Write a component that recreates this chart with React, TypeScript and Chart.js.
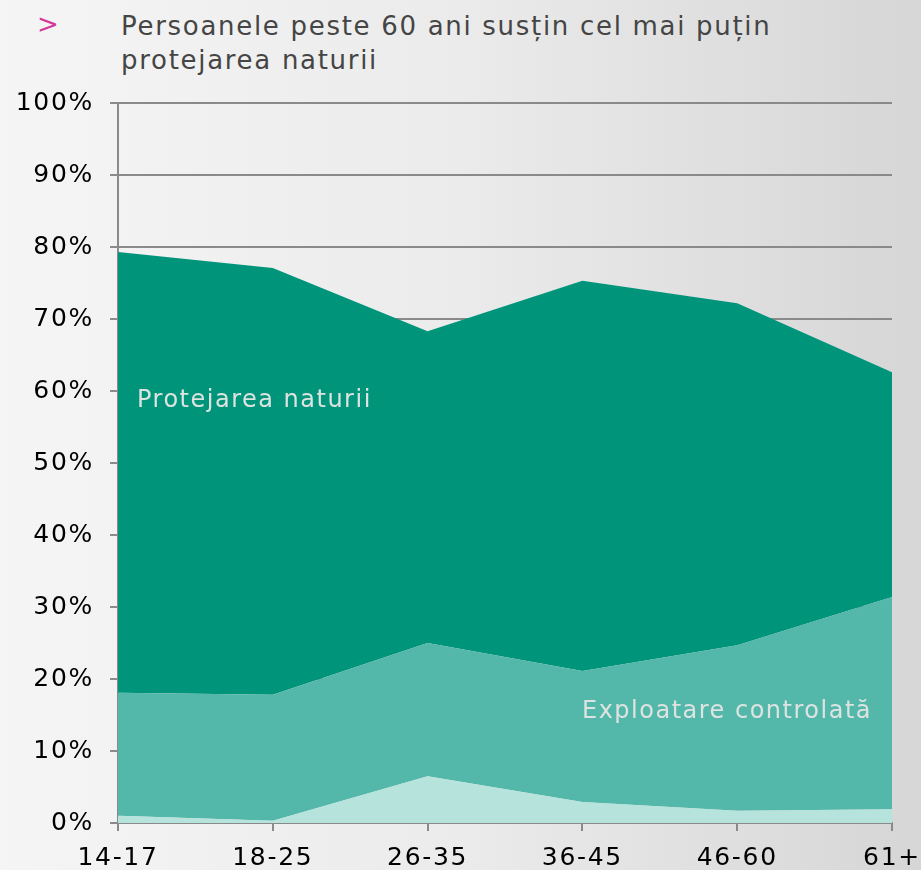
import React, { useEffect, useRef } from "react";
import { Chart, registerables } from "chart.js";

Chart.register(...registerables);

const categories = ["14-17", "18-25", "26-35", "36-45", "46-60", "61+"];
const lightValues = [1.0, 0.3, 6.5, 2.9, 1.7, 1.9];
const exploatareValues = [17.1, 17.5, 18.5, 18.2, 23.0, 29.5];
const protejareValues = [61.2, 59.3, 43.3, 54.2, 47.5, 31.2];
const titleLines = ["Persoanele peste 60 ani susțin cel mai puțin", "protejarea naturii"];
const protejareLabel = "Protejarea naturii";
const exploatareLabel = "Exploatare controlată";

const FONT = "'DejaVu Sans', Verdana, sans-serif";
const SPACING = "1.7px";

const spacingPlugin = {
  id: "spacing",
  beforeUpdate(chart: any) {
    (chart.ctx as any).letterSpacing = SPACING;
  },
  beforeDraw(chart: any) {
    (chart.ctx as any).letterSpacing = SPACING;
  },
};

const labelPlugin = {
  id: "areaLabels",
  afterDatasetsDraw(chart: any) {
    const { ctx, chartArea, scales } = chart;
    const y = scales.y;
    ctx.save();
    (ctx as any).letterSpacing = "1.5px";
    ctx.font = `24px ${FONT}`;
    ctx.fillStyle = "#dde3e0";
    ctx.textBaseline = "middle";
    ctx.textAlign = "left";
    ctx.fillText(protejareLabel, chartArea.left + 19, y.getPixelForValue(58.7));
    ctx.textAlign = "right";
    ctx.fillText(exploatareLabel, chartArea.right - 20, y.getPixelForValue(15.5));
    ctx.restore();
  },
};

export default function App() {
  const ref = useRef<HTMLCanvasElement | null>(null);
  useEffect(() => {
    if (!ref.current) return;
    const chart = new Chart(ref.current, {
      type: "line",
      data: {
        labels: categories,
        datasets: [
          {
            data: lightValues,
            backgroundColor: "#b7e3dd",
            borderWidth: 0,
            pointRadius: 0,
            fill: "origin",
            tension: 0,
          },
          {
            data: exploatareValues,
            backgroundColor: "#53b8aa",
            borderWidth: 0,
            pointRadius: 0,
            fill: "-1",
            tension: 0,
          },
          {
            data: protejareValues,
            backgroundColor: "#00957b",
            borderWidth: 0,
            pointRadius: 0,
            fill: "-1",
            tension: 0,
          },
        ],
      },
      options: {
        animation: false,
        responsive: false,
        maintainAspectRatio: false,
        layout: { padding: { top: 103, left: 0, right: 29, bottom: 0 } },
        plugins: {
          legend: { display: false },
          tooltip: { enabled: false },
        },
        scales: {
          x: {
            offset: false,
            grid: {
              drawOnChartArea: false,
              drawTicks: true,
              tickLength: 8,
              color: "#8a8a8a",
              lineWidth: 2,
            },
            border: { display: true, color: "#8a8a8a", width: 2 },
            ticks: {
              color: "#000",
              font: { family: FONT, size: 25 },
              padding: 12,
              maxRotation: 0,
              autoSkip: false,
            },
            afterFit(scale: any) {
              scale.height = 47;
              scale.paddingLeft = 0;
              scale.paddingRight = 0;
            },
          },
          y: {
            stacked: true,
            min: 0,
            max: 100,
            grid: {
              color: "#8a8a8a",
              lineWidth: 2,
              tickLength: 8,
              drawTicks: true,
            },
            border: { display: true, color: "#8a8a8a", width: 2 },
            ticks: {
              stepSize: 10,
              color: "#000",
              font: { family: FONT, size: 25 },
              padding: 16,
              callback: (v: any) => v + "%",
            },
            afterFit(scale: any) {
              scale.width = 118;
              scale.paddingTop = 0;
              scale.paddingBottom = 0;
            },
          },
        },
      },
      plugins: [spacingPlugin, labelPlugin],
    });
    return () => chart.destroy();
  }, []);

  return (
    <div
      style={{
        position: "fixed",
        left: 0,
        top: 0,
        width: 921,
        height: 870,
        overflow: "hidden",
        background: "linear-gradient(to right, #f5f5f5 0%, #ebebeb 50%, #d6d6d6 100%)",
      }}
    >
      <div
        style={{
          position: "absolute",
          left: 37,
          top: 9,
          color: "#d6379b",
          fontFamily: FONT,
          fontSize: 26,
          lineHeight: "30px",
        }}
      >
        &gt;
      </div>
      <div
        style={{
          position: "absolute",
          left: 121,
          top: 9,
          color: "#454545",
          fontFamily: FONT,
          fontSize: 26,
          lineHeight: "34px",
          letterSpacing: "1.7px",
          whiteSpace: "nowrap",
        }}
      >
        {titleLines.map((l, i) => (
          <div key={i}>{l}</div>
        ))}
      </div>
      <canvas
        ref={ref}
        width={921}
        height={870}
        style={{ position: "absolute", left: 0, top: 0, width: 921, height: 870 }}
      />
    </div>
  );
}
